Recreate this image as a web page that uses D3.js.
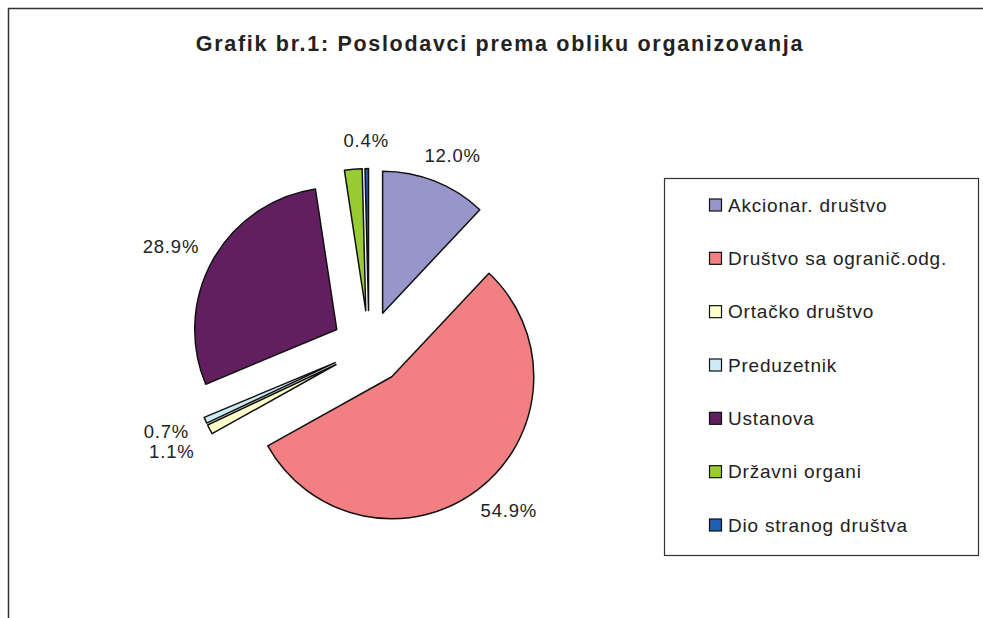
<!DOCTYPE html>
<html>
<head>
<meta charset="utf-8">
<script src="https://cdn.jsdelivr.net/npm/d3@7"></script>
<style>
  body { margin: 0; background: #fff; }
  text { font-family: "Liberation Sans", Arial, sans-serif; fill: #222; }
</style>
</head>
<body>
<svg width="983" height="618"></svg>
<script>
// chart data
const categories = [
    "Akcionar. društvo",
    "Društvo sa ogranič.odg.",
    "Ortačko društvo",
    "Preduzetnik",
    "Ustanova",
    "Državni organi",
    "Dio stranog društva"
]
const shares = [12.0, 54.9, 1.1, 0.7, 28.9, 2.0, 0.4]
// the reference shows no label on the Državni organi slice
const showLabel = [true, true, true, true, true, false, true]
const colors = ["#9696cb", "#f28083", "#ffffcc", "#cdebf5", "#621f60", "#99cc33", "#1f5fb4"]
const title = "Grafik br.1: Poslodavci prema obliku organizovanja"

const svg = d3.select("svg")

// outer chart frame (runs off the right and bottom edge)
svg.append("rect")
    .attr("x", 8.5).attr("y", 8.5)
    .attr("width", 1000).attr("height", 700)
    .attr("fill", "none")
    .attr("stroke", "#333")
    .attr("stroke-width", 1.5)

svg.append("text")
    .attr("x", 500).attr("y", 51)
    .attr("text-anchor", "middle")
    .style("font-size", "21.5px")
    .style("font-weight", "bold")
    .style("letter-spacing", "1.7px")
    .text(title)

// pie
const cx = 369, cy = 347.6
const radius = 142
const explode = 37
const labelRadius = 199

const pie = d3.pie().sort(null).value(d => d)
const arcs = pie(shares)
const arc = d3.arc().innerRadius(0).outerRadius(radius)

const mid = d => (d.startAngle + d.endAngle) / 2

const g = svg.append("g").attr("transform", `translate(${cx},${cy})`)

g.selectAll("path.slice")
    .data(arcs)
    .enter()
    .append("path")
    .attr("class", "slice")
    .attr("d", arc)
    .attr("transform", d => {
        const a = mid(d)
        return `translate(${Math.sin(a) * explode},${-Math.cos(a) * explode})`
    })
    .attr("fill", (d, i) => colors[i])
    .attr("stroke", "#111")
    .attr("stroke-width", 1.5)
    .attr("stroke-linejoin", "round")

// data labels: box pushed outwards from a point on the label circle
const labels = g.selectAll("text.lbl")
    .data(arcs.filter((d, i) => showLabel[i]))
    .enter()
    .append("text")
    .attr("class", "lbl")
    .style("font-size", "18.5px")
    .style("letter-spacing", "0.8px")
    .attr("text-anchor", "middle")
    .attr("dominant-baseline", "central")
    .text(d => d.value.toFixed(1) + "%")

const boxes = []
labels.each(function (d) {
    const a = mid(d)
    const dx = Math.sin(a), dy = -Math.cos(a)
    const w = this.getComputedTextLength()
    const h = 16
    boxes.push({ node: this, x: dx * labelRadius + dx * w / 2, y: dy * labelRadius + dy * h / 2, left: dx < 0 })
})

// push overlapping labels on the same side apart (downwards)
const minGap = 20
;[true, false].forEach(side => {
    const list = boxes.filter(b => b.left === side).sort((p, q) => p.y - q.y)
    for (let k = 1; k < list.length; k++) {
        if (list[k].y - list[k - 1].y < minGap && Math.abs(list[k].x - list[k - 1].x) < 60) {
            list[k].y = list[k - 1].y + minGap
        }
    }
})
boxes.forEach(b => d3.select(b.node).attr("x", b.x).attr("y", b.y))

// legend
const legend = svg.append("g").attr("transform", "translate(664.5,178.5)")
legend.append("rect")
    .attr("width", 314).attr("height", 377)
    .attr("fill", "#fff")
    .attr("stroke", "#333")
    .attr("stroke-width", 1.2)

const rowY = d3.scalePoint()
    .domain(categories)
    .range([26.5, 346.5])

const rows = legend.selectAll("g.row")
    .data(categories)
    .enter()
    .append("g")
    .attr("class", "row")
    .attr("transform", d => `translate(0,${rowY(d)})`)

rows.append("rect")
    .attr("x", 45).attr("y", -6)
    .attr("width", 12).attr("height", 12)
    .attr("fill", (d, i) => colors[i])
    .attr("stroke", "#111")
    .attr("stroke-width", 1.2)

rows.append("text")
    .attr("x", 63.5).attr("y", 0)
    .attr("dominant-baseline", "central")
    .style("font-size", "19px")
    .style("letter-spacing", "0.8px")
    .text(d => d)
</script>
</body>
</html>
